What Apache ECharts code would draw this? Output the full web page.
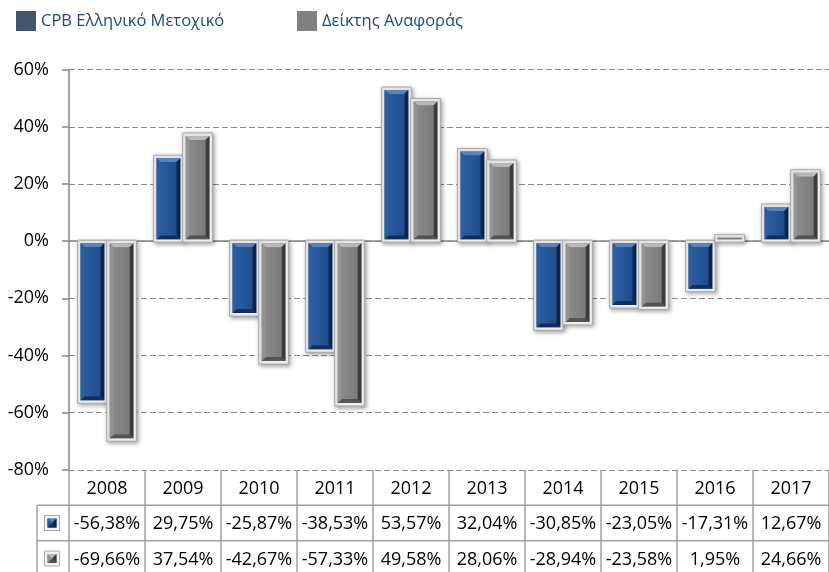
<!DOCTYPE html>
<html>
<head>
<meta charset="utf-8">
<script src="https://cdn.jsdelivr.net/npm/echarts@6/dist/echarts.min.js"></script>
<style>
html,body{margin:0;padding:0;background:#fff;}
#chart{width:829px;height:572px;}
</style>
</head>
<body>
<div id="chart"></div>
<script>
// ---- data ----
const categories = ['2008','2009','2010','2011','2012','2013','2014','2015','2016','2017'];
const seriesNames = ['CPB Ελληνικό Μετοχικό', 'Δείκτης Αναφοράς'];
const cpbValues = [-56.38, 29.75, -25.87, -38.53, 53.57, 32.04, -30.85, -23.05, -17.31, 12.67];
const benchValues = [-69.66, 37.54, -42.67, -57.33, 49.58, 28.06, -28.94, -23.58, 1.95, 24.66];
const yMin = -80, yMax = 60, yStep = 20;

// ---- styles ----
const FONT = '"Open Sans", sans-serif';
const bevel = [
  {legend:'#44546a', main:'#1f4e8c', mainL:'#2a5c9e', top:'#5a82bb', left:'#2d5d9c', right:'#0c2550', bottom:'#122f5c'},
  {legend:'#808080', main:'#7b7b7b', mainL:'#8a8a8a', top:'#b8b8b8', left:'#929292', right:'#3b3b3b', bottom:'#545454'}
];

function bevelShapes(x, y0, bw, h, pal, shadow) {
  const ch = [];
  ch.push({type:'rect', shape:{x:x-1, y:y0-1, width:bw+2, height:h+2},
    style:{fill:'#f3f3f3', stroke:'#a9a9a9', lineWidth:1,
      shadowBlur: shadow ? 4 : 0, shadowColor:'rgba(0,0,0,0.35)', shadowOffsetX: shadow ? 1.5 : 0, shadowOffsetY: shadow ? 1.5 : 0}});
  const ix = x + 2, iy = y0 + 2, iw = bw - 4, ih = h - 4;
  if (ih > 0 && iw > 0) {
    const b = Math.min(4, ih / 2, iw / 2);
    ch.push({type:'rect', shape:{x:ix, y:iy, width:iw, height:ih}, style:{fill:pal.main}});
    ch.push({type:'polygon', shape:{points:[[ix,iy],[ix+iw,iy],[ix+iw-b,iy+b],[ix+b,iy+b]]}, style:{fill:pal.top}});
    ch.push({type:'polygon', shape:{points:[[ix,iy+ih],[ix+iw,iy+ih],[ix+iw-b,iy+ih-b],[ix+b,iy+ih-b]]}, style:{fill:pal.bottom}});
    ch.push({type:'polygon', shape:{points:[[ix,iy],[ix+b,iy+b],[ix+b,iy+ih-b],[ix,iy+ih]]}, style:{fill:pal.left}});
    ch.push({type:'polygon', shape:{points:[[ix+iw,iy],[ix+iw-b,iy+b],[ix+iw-b,iy+ih-b],[ix+iw,iy+ih]]}, style:{fill:pal.right}});
    if (ih - 2*b > 0) {
      ch.push({type:'rect', shape:{x:ix+b, y:iy+b, width:iw-2*b, height:ih-2*b},
        style:{fill:new echarts.graphic.LinearGradient(0,0,1,0,[{offset:0,color:pal.mainL},{offset:1,color:pal.main}])}});
    }
  }
  return ch;
}

function makeRender(s) {
  return function (params, api) {
    const idx = api.value(0), v = api.value(1);
    const base = api.coord([idx, 0]);
    const tp = api.coord([idx, v]);
    const catW = api.size([1, 0])[0];
    const bw = catW * 0.365;
    const off = bw / 2 + 0.7;
    const cx = base[0] + (s === 0 ? -off : off);
    const x = cx - bw / 2;
    const y0 = Math.min(base[1], tp[1]);
    const h = Math.abs(base[1] - tp[1]);
    return {type:'group', children: bevelShapes(x, y0, bw, h, bevel[s], true)};
  };
}

const chart = echarts.init(document.getElementById('chart'), null, {renderer:'canvas'});

const option = {
  animation: false,
  backgroundColor: '#fff',
  legend: [
    {data:[{name:seriesNames[0], itemStyle:{color:bevel[0].legend}}], left:11, top:6, icon:'rect', itemWidth:20, itemHeight:20,
     textStyle:{fontFamily:FONT, fontSize:16.5, color:'#1f497d'}, selectedMode:false},
    {data:[{name:seriesNames[1], itemStyle:{color:bevel[1].legend}}], left:292, top:6, icon:'rect', itemWidth:20, itemHeight:20,
     textStyle:{fontFamily:FONT, fontSize:16.5, color:'#1f497d'}, selectedMode:false}
  ],
  grid: {left:69, right:-7, top:69.7, bottom:102.2, containLabel:false},
  xAxis: {
    type:'category', data:categories, boundaryGap:true,
    axisLine:{show:true, onZero:true, lineStyle:{color:'#868686', width:1.5}},
    axisTick:{show:false}, axisLabel:{show:false}, splitLine:{show:false}
  },
  yAxis: {
    type:'value', min:yMin, max:yMax, interval:yStep,
    axisLine:{show:true, lineStyle:{color:'#868686', width:1.5}},
    axisTick:{show:true, length:7, lineStyle:{color:'#868686', width:1.5}},
    axisLabel:{formatter:'{value}%', fontFamily:FONT, fontSize:18, color:'#000', margin:20},
    splitLine:{show:true, lineStyle:{color:'#8c8c8c', width:1, type:[6,3]}}
  },
  series: [
    {name:seriesNames[0], type:'custom', renderItem:makeRender(0), itemStyle:{color:bevel[0].legend},
     encode:{x:0, y:1}, data:cpbValues.map((v,i)=>[i,v]), z:3},
    {name:seriesNames[1], type:'custom', renderItem:makeRender(1), itemStyle:{color:bevel[1].legend},
     encode:{x:0, y:1}, data:benchValues.map((v,i)=>[i,v]), z:3}
  ]
};
chart.setOption(option);

// ---- data table under the plot ----
function fmt(v){ return v.toFixed(2).replace('.', ',') + '%'; }
function buildTable() {
  const c0 = chart.convertToPixel({xAxisIndex:0}, 0);
  const c1 = chart.convertToPixel({xAxisIndex:0}, 1);
  const cw = c1 - c0;
  const left = c0 - cw / 2;
  const right = left + cw * categories.length;
  const yTop = chart.convertToPixel({yAxisIndex:0}, yMin);
  const rowH = 35.5;
  const keyLeft = left - 32;
  const lineStyle = {stroke:'#a0a0a0', lineWidth:1.5};
  const els = [];
  for (let i = 0; i <= categories.length; i++) {
    const x = left + cw * i;
    els.push({type:'line', shape:{x1:x, y1:yTop, x2:x, y2:yTop + rowH*3}, style:lineStyle, z:10});
  }
  els.push({type:'line', shape:{x1:keyLeft, y1:yTop+rowH, x2:keyLeft, y2:yTop+rowH*3}, style:lineStyle, z:10});
  for (let r = 1; r <= 3; r++) {
    els.push({type:'line', shape:{x1:keyLeft, y1:yTop+rowH*r, x2:right, y2:yTop+rowH*r}, style:lineStyle, z:10});
  }
  const rows = [categories, cpbValues.map(fmt), benchValues.map(fmt)];
  rows.forEach((row, r) => {
    row.forEach((t, i) => {
      els.push({type:'text', x: c0 + cw*i, y: yTop + rowH*r + rowH/2 + 1, z:11,
        style:{text:t, fontFamily:FONT, fontSize:18, fill:'#000', align:'center', verticalAlign:'middle'}});
    });
  });
  // series keys
  [0,1].forEach(s => {
    const cy = yTop + rowH*(s+1) + rowH/2;
    const ks = 13;
    els.push({type:'group', z:11, children: bevelShapes(keyLeft + 8.5, cy - ks/2, ks, ks, bevel[s], false)});
  });
  chart.setOption({graphic:{elements:els}});
}
buildTable();
</script>
</body>
</html>
